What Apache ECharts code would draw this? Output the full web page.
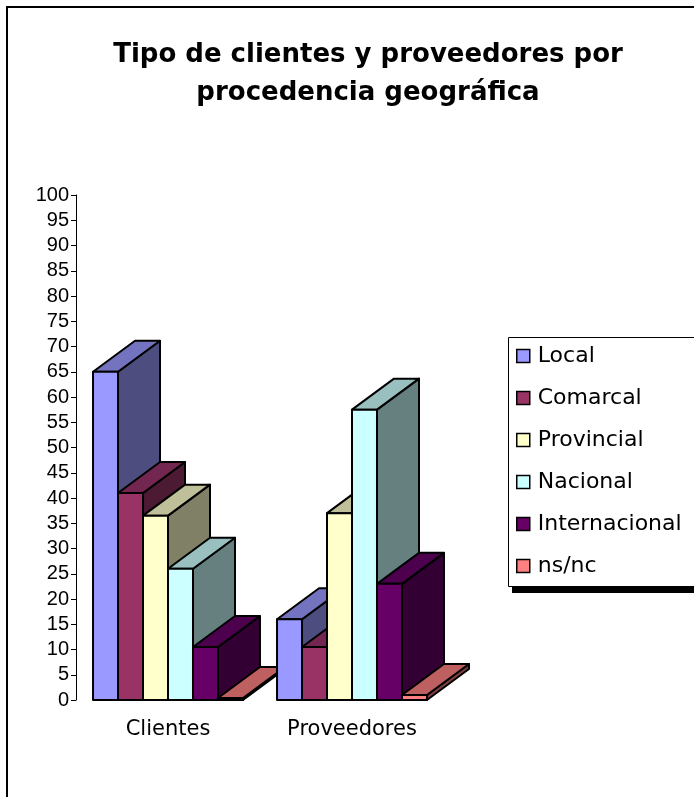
<!DOCTYPE html>
<html>
<head>
<meta charset="utf-8">
<script src="https://cdn.jsdelivr.net/npm/echarts@6/dist/echarts.min.js"></script>
<style>
  html, body { margin: 0; padding: 0; background: #fff; }
  #chart { width: 694px; height: 797px; }
</style>
</head>
<body>
<div id="chart"></div>
<script>
// categorías y series
const categories = ['Clientes', 'Proveedores']
const origins = ['Local', 'Comarcal', 'Provincial', 'Nacional', 'Internacional', 'ns/nc']
const clientes = [65, 41, 36.5, 26, 10.5, 0.4]
const proveedores = [16, 10.5, 37, 57.5, 23, 1]
const yTicks = { min: 0, max: 100, interval: 5 }

// colores: cara frontal, superior y lateral
const frontColors = ['#9999FF', '#993366', '#FFFFCC', '#CCFFFF', '#660066', '#FF8080']
const topColors = ['#7373BF', '#732650', '#BFBF99', '#99BFBF', '#4D004D', '#BF6060']
const sideColors = ['#4D4D80', '#4D1A33', '#808066', '#668080', '#330033', '#804040']

const GROUP = 0.815 // ancho del grupo respecto a la banda
const DX = 42
const DY = 31

function makeRender (idx) {
  return function (params, api) {
    const c = api.value(0)
    const v = api.value(1)
    const base = api.coord([c, 0])
    const top = api.coord([c, v])
    const band = api.size([1, 0])[0]
    const bw = band * GROUP / 6
    const x0 = base[0] - band * GROUP / 2 + idx * bw
    const x1 = x0 + bw
    const ty = top[1]
    const by = base[1]
    const line = { stroke: '#000', lineWidth: 2, lineJoin: 'round' }
    return {
      type: 'group',
      children: [
        { // lateral
          type: 'polygon',
          shape: { points: [[x1, ty], [x1 + DX, ty - DY], [x1 + DX, by - DY], [x1, by]] },
          style: Object.assign({ fill: sideColors[idx] }, line)
        },
        { // superior
          type: 'polygon',
          shape: { points: [[x0, ty], [x1, ty], [x1 + DX, ty - DY], [x0 + DX, ty - DY]] },
          style: Object.assign({ fill: topColors[idx] }, line)
        },
        { // frontal
          type: 'rect',
          shape: { x: x0, y: ty, width: bw, height: by - ty },
          style: Object.assign({ fill: frontColors[idx] }, line)
        }
      ]
    }
  }
}

// una serie por procedencia y categoría, para que el orden de dibujo sea correcto
const series = []
categories.forEach(function (cat, c) {
  const values = c === 0 ? clientes : proveedores
  origins.forEach(function (name, i) {
    series.push({
      name: name,
      type: 'custom',
      z: 2 + c,
      clip: false,
      itemStyle: { color: frontColors[i] },
      renderItem: makeRender(i),
      data: [[c, values[i]]]
    })
  })
})

const chart = echarts.init(document.getElementById('chart'))
chart.setOption({
  animation: false,
  title: {
    text: 'Tipo de clientes y proveedores por\nprocedencia geográfica',
    left: 363,
    top: 31,
    textAlign: 'center',
    textStyle: {
      fontFamily: 'DejaVu Sans',
      fontWeight: 'bold',
      fontSize: 26,
      lineHeight: 38,
      color: '#000'
    }
  },
  graphic: [
    { // marco
      type: 'rect',
      shape: { x: 7, y: 7, width: 720, height: 820 },
      style: { fill: 'none', stroke: '#000', lineWidth: 2 },
      silent: true
    },
    { // sombra de la leyenda
      type: 'rect',
      shape: { x: 512, y: 343, width: 200, height: 250 },
      style: { fill: '#000' },
      silent: true
    },
    { // caja de la leyenda
      type: 'rect',
      shape: { x: 508.5, y: 337.5, width: 200, height: 249 },
      style: { fill: '#fff', stroke: '#000', lineWidth: 1 },
      silent: true
    }
  ],
  legend: {
    data: origins,
    orient: 'vertical',
    left: 508,
    top: 337,
    icon: 'rect',
    itemWidth: 13,
    itemHeight: 13,
    itemGap: 20,
    padding: [8, 8, 12, 8],
    itemStyle: { borderColor: '#000', borderWidth: 1.5 },
    textStyle: {
      fontFamily: 'DejaVu Sans',
      fontSize: 22,
      lineHeight: 22,
      color: '#000',
      padding: [0, 0, 0, 3]
    }
  },
  grid: {
    left: 76,
    right: 250,
    top: 195,
    bottom: 97
  },
  xAxis: {
    type: 'category',
    data: categories,
    axisLine: { show: false },
    axisTick: { show: false },
    axisLabel: {
      margin: 19,
      fontFamily: 'DejaVu Sans',
      fontSize: 21,
      color: '#000'
    }
  },
  yAxis: {
    type: 'value',
    min: yTicks.min,
    max: yTicks.max,
    interval: yTicks.interval,
    splitLine: { show: false },
    axisLine: { show: true, lineStyle: { color: '#000', width: 1 } },
    axisTick: { show: true, length: 5, lineStyle: { color: '#000' } },
    axisLabel: {
      margin: 7,
      fontFamily: 'Liberation Sans',
      fontSize: 20,
      color: '#000'
    }
  },
  series: series
})
</script>
</body>
</html>
